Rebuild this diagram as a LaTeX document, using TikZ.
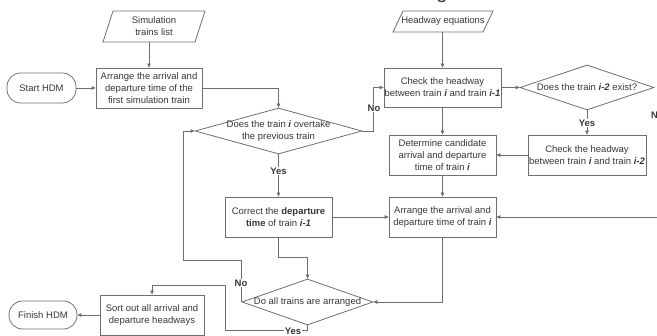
\documentclass[tikz,border=0pt]{standalone}
\usepackage{fontspec}
\setmainfont{Liberation Sans}
\usetikzlibrary{shapes.geometric,arrows.meta}
\definecolor{lc}{RGB}{110,110,110}
\definecolor{tc}{RGB}{55,55,55}
\begin{document}
\begin{tikzpicture}[x=1pt,y=-1pt,
  every node/.style={font=\fontsize{9.5}{12}\selectfont, text=tc},
  proc/.style={draw=lc, line width=0.8pt, align=center, inner sep=0pt},
  term/.style={draw=lc, line width=0.8pt, rounded corners=13.5pt, inner sep=0pt},
  dec/.style={diamond, draw=lc, line width=0.8pt, inner sep=0pt},
  dtext/.style={align=center, inner sep=0pt},
  con/.style={draw=lc, line width=0.8pt, -{Triangle[length=4pt,width=3.6pt]}},
  lin/.style={draw=lc, line width=0.8pt},
  lab/.style={font=\fontsize{9.5}{12}\selectfont\bfseries, fill=white, inner sep=1pt}
]
\useasboundingbox (0,0) rectangle (657,336);

% fragment of text above the picture
\node[font=\fontsize{20}{20}\selectfont, anchor=base, inner sep=0pt] (gfrag) at (442,-1.5) {g};

% inputs (parallelograms)
\draw[lin] (103,42) -- (113,11) -- (205,11) -- (195,42) -- cycle;
\node[dtext] (sim) at (154,26.5) {Simulation\\trains list};
\coordinate (simb) at (149,42);
\draw[lin] (393,32) -- (403,11) -- (493,11) -- (483,32) -- cycle;
\node[dtext] (heq) at (443,21.5) {Headway equations};
\coordinate (heqb) at (442.5,32);

% terminals
\node[term, minimum width=69pt, minimum height=30pt] (start) at (41.5,88) {Start HDM};
\node[term, minimum width=68pt, minimum height=28pt] (fin) at (43,315) {Finish HDM};

% processes
\node[proc, minimum width=106pt, minimum height=40pt] (b1) at (149,88) {Arrange the arrival and\\departure time of the\\first simulation train};
\node[proc, minimum width=107pt, minimum height=40pt] (cor) at (278.5,217) {Correct the \textbf{departure}\\\textbf{time} of train \textbf{\textit{i-1}}};
\node[proc, minimum width=104pt, minimum height=40pt] (sort) at (152,315) {Sort out all arrival and\\departure headways};
\node[proc, minimum width=117pt, minimum height=39pt] (c1) at (442.5,87.5) {Check the headway\\between train \textbf{\textit{i}} and train \textbf{\textit{i-1}}};
\node[proc, minimum width=118pt, minimum height=40pt] (c2) at (587,155) {Check the headway\\between train \textbf{\textit{i}} and train \textbf{\textit{i-2}}};
\node[proc, minimum width=107pt, minimum height=40pt] (det) at (442.5,155) {Determine candidate\\arrival and departure\\time of train \textbf{\textit{i}}};
\node[proc, minimum width=107pt, minimum height=40pt] (arr) at (442.5,217) {Arrange the arrival and\\departure time of train \textbf{\textit{i}}};

% decisions
\node[dec, minimum width=167pt, minimum height=46pt] (d1) at (278.5,131) {};
\node[dtext] (d1t) at (d1) {Does the train \textbf{\textit{i}} overtake\\the previous train};
\node[dec, minimum width=131pt, minimum height=46pt] (d2) at (307.5,302) {};
\node[dtext] (d2t) at (d2) {Do all trains are arranged};
\node[dec, minimum width=134pt, minimum height=45pt] (d3) at (587,87.5) {};
\node[dtext] (d3t) at (d3) {Does the train \textbf{\textit{i-2}} exist?};

% connectors
\draw[con] (simb) -- (b1.north);
\draw[con] (start.east) -- (b1.west);
\draw[con] (b1.east) -| (d1.north);
\draw[con] (d1.east) -- ++(11,0) |- (c1.west);
\node[lab] (no1) at (374,108) {No};
\draw[con] (heqb) -- (c1.north);
\draw[con] (c1.east) -- (d3.west);
\draw[con] (d3.south) -- (c2.north);
\node[lab] (yes3) at (587,123) {Yes};
\node[lab, anchor=west] (no3) at (650,115) {No};
\draw[con] (c2.west) -- (det.east);
\draw[con] (c1.south) -- (det.north);
\draw[con] (det.south) -- (arr.north);
\draw[con] (d1.south) -- (cor.north);
\node[lab] (yes1) at (278.5,171) {Yes};
\draw[con] (cor.east) -- (arr.west);
\coordinate (redge) at (657,217);
\draw[con] (redge) -- (arr.east);
\draw[con] (arr.south) |- (d2.east);
\draw[con] (cor.south) -- ++(0,20) -| (d2.north);
\draw[con] (d2.west) |- (183,260) |- (d1.west);
\node[lab] (no2) at (241,283) {No};
\draw[con] (d2.south) -- ++(0,5) -| (225,285) -| (sort.north);
\node[lab] (yes2) at (293,331.5) {Yes};
\draw[con] (sort.west) -- (fin.east);
\end{tikzpicture}
\end{document}
